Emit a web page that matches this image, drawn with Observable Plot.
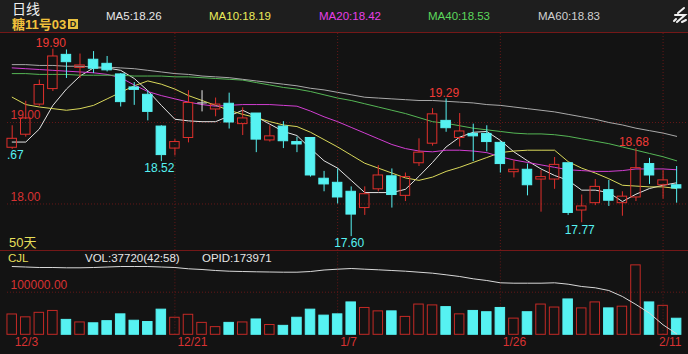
<!DOCTYPE html>
<html><head><meta charset="utf-8">
<script src="https://cdn.jsdelivr.net/npm/d3@7"></script>
<script src="https://cdn.jsdelivr.net/npm/@observablehq/plot@0.6"></script>
<style>
html,body{margin:0;padding:0;background:#131313;}
#root{position:relative;width:688px;height:354px;overflow:hidden;background:#131313;font-family:"Liberation Sans",Arial,"Noto Sans CJK SC",sans-serif;}
.abs{position:absolute;white-space:nowrap;line-height:1;}
#hdr{left:0;top:0;width:688px;height:32px;background:#1e1e1e;border-bottom:1px solid #741818;}
#sep{left:0;top:250px;width:688px;height:1px;background:#741818;}
#pricePlot{left:0;top:33px;}
#volPlot{left:0;top:251px;}
#oiPlot{left:0;top:251px;}
.ma{font-size:11.5px;top:11px;}
</style></head>
<body>
<div id="root">
  <div id="hdr" class="abs"></div>
  <div class="abs" style="left:12px;top:2px;font-size:14px;color:#f0f0f0;line-height:14px;">日线</div>
  <div class="abs" style="left:12px;top:18px;font-size:13px;font-weight:bold;color:#f2c23c;line-height:13px;">糖11号03</div>
  <div class="abs" style="left:68px;top:19px;width:10px;height:10px;background:#e8c040;color:#1e1e1e;font-size:9px;font-weight:bold;text-align:center;line-height:10px;">D</div>
  <div id="maLabels"></div>
  <svg class="abs" style="left:672px;top:6px" width="16" height="22" viewBox="0 0 16 22">
    <path d="M12 2 L6 7 M3 9 L13 9 L5 16 M4 13 L2 15 M10 16 L14 14" stroke="#f0f0f0" stroke-width="2" fill="none" stroke-linecap="round"/>
  </svg>
  <div id="pricePlot" class="abs"></div>
  <div id="sep" class="abs"></div>
  <div class="abs" style="left:9px;top:236px;font-size:13px;color:#e6df5a;">50天</div>
  <div id="volPlot" class="abs"></div>
  <div id="oiPlot" class="abs"></div>
  <div class="abs" style="left:8px;top:253px;font-size:11.5px;color:#e6df5a;">CJL</div>
  <div class="abs" style="left:85px;top:253px;font-size:11.5px;color:#e6e6e6;">VOL:37720(42:58)</div>
  <div class="abs" style="left:202px;top:253px;font-size:11.5px;color:#e6e6e6;">OPID:173971</div>
</div>
<script>
// ---- data (50 trading days) ----
const open  = [18.69,18.85,19.22,19.41,19.83,19.67,19.77,19.72,19.59,19.43,19.34,18.95,18.68,18.81,19.24,19.16,19.23,18.98,19.11,18.78,18.95,18.76,18.81,18.31,18.26,18.15,17.95,18.18,18.34,18.10,18.50,18.74,19.02,18.81,18.86,18.86,18.75,18.39,18.42,18.30,18.30,18.50,17.92,18.01,18.17,18.01,18.08,18.49,18.23,18.23];
const high  = [18.96,19.26,19.52,19.90,19.89,19.84,19.87,19.81,19.60,19.49,19.39,18.96,18.79,19.39,19.39,19.30,19.36,19.18,19.11,18.96,19.01,18.82,18.81,18.40,18.43,18.21,18.21,18.47,18.43,18.38,18.80,19.17,19.29,19.11,18.98,18.96,18.77,18.53,18.49,18.41,18.57,18.50,18.11,18.30,18.29,18.15,18.68,18.56,18.41,18.46];
const low   = [18.67,18.82,19.20,19.38,19.54,19.54,19.60,19.62,19.19,19.21,19.02,18.52,18.59,18.75,19.13,19.07,18.92,18.84,18.63,18.76,18.68,18.63,18.33,18.15,18.00,17.60,17.86,18.15,17.95,18.03,18.46,18.71,18.88,18.70,18.52,18.64,18.38,18.32,18.10,17.90,18.18,17.86,17.77,17.98,17.97,17.85,18.03,18.24,18.06,18.01];
const close = [18.80,19.05,19.46,19.81,19.74,19.70,19.66,19.64,19.25,19.40,19.13,18.60,18.76,19.24,19.24,19.22,19.00,19.05,18.79,18.83,18.77,18.73,18.35,18.24,18.08,17.87,18.12,18.35,18.11,18.33,18.63,19.10,18.93,18.89,18.83,18.76,18.49,18.42,18.23,18.33,18.48,17.89,17.97,18.21,18.04,18.09,18.44,18.35,18.29,18.19];
const volume = [47700,41000,51600,56000,35000,29000,27000,32000,48000,33000,30000,59000,40000,47000,28000,18000,28000,29000,36000,23000,21000,40000,59000,45000,48000,76000,63000,55000,55000,42000,71000,69000,65000,48000,56000,53000,63000,38000,53000,71000,64000,83000,62000,76000,62000,66000,163000,76000,68000,37720];
const openInterest = [308600,307600,306600,306600,306000,306000,306600,307600,308600,308600,308600,307600,306600,304000,302600,300600,299200,298600,298000,297600,297200,297200,298600,301600,303200,304600,303200,302000,300600,299200,297200,295200,292000,288600,284000,280600,276000,275200,275200,275200,276000,273200,268600,266000,260600,248600,232600,215200,192000,173971];
const ma5  = [18.76,18.76,18.92,19.21,19.41,19.57,19.67,19.67,19.64,19.54,19.39,19.21,19.04,19.02,19.01,19.01,19.08,19.15,19.07,18.98,18.89,18.84,18.68,18.53,18.44,18.29,18.14,18.14,18.14,18.18,18.34,18.51,18.70,18.82,18.88,18.89,18.78,18.64,18.53,18.43,18.35,18.29,18.17,18.17,18.14,18.03,18.12,18.19,18.23,18.26];
const ma10 = [19.31,19.22,19.19,19.17,19.15,19.17,19.21,19.29,19.37,19.45,19.51,19.47,19.41,19.33,19.27,19.21,19.15,19.10,19.06,19.01,18.97,18.95,18.88,18.79,18.70,18.60,18.50,18.44,18.38,18.32,18.29,18.33,18.40,18.45,18.51,18.57,18.63,18.65,18.66,18.66,18.66,18.52,18.44,18.38,18.31,18.23,18.22,18.21,18.21,18.19];
const ma20 = [19.67,19.66,19.65,19.64,19.63,19.62,19.61,19.59,19.55,19.46,19.38,19.33,19.29,19.25,19.22,19.20,19.21,19.22,19.22,19.22,19.21,19.20,19.14,19.07,19.01,18.94,18.87,18.80,18.73,18.68,18.65,18.64,18.66,18.66,18.65,18.63,18.58,18.54,18.51,18.48,18.45,18.42,18.41,18.40,18.40,18.41,18.43,18.43,18.43,18.42];
const ma40 = [19.60,19.60,19.59,19.59,19.59,19.58,19.58,19.58,19.58,19.57,19.57,19.57,19.56,19.56,19.55,19.54,19.53,19.52,19.49,19.46,19.43,19.41,19.38,19.34,19.30,19.27,19.23,19.19,19.15,19.11,19.06,19.01,18.99,18.96,18.93,18.91,18.89,18.87,18.86,18.86,18.85,18.83,18.80,18.77,18.74,18.70,18.66,18.62,18.58,18.53];
const ma60 = [19.71,19.71,19.70,19.70,19.69,19.69,19.68,19.68,19.67,19.66,19.64,19.62,19.60,19.59,19.57,19.56,19.55,19.53,19.51,19.49,19.47,19.45,19.42,19.40,19.37,19.34,19.31,19.30,19.29,19.28,19.27,19.27,19.26,19.25,19.24,19.22,19.21,19.19,19.17,19.15,19.13,19.10,19.07,19.04,19.00,18.97,18.93,18.90,18.87,18.83];
const maNames  = ["MA5","MA10","MA20","MA40","MA60"];
const maLast   = ["18.26","18.19","18.42","18.53","18.83"];
const tickIdx    = [0,12,24,36,48];
const tickLabels = ["12/3","12/21","1/7","1/26","2/11"];
const priceTicks = [19, 18];
const volTicks   = [100000];
const highMarks = [3, 32, 46];
const lowMarks  = [0, 11, 25, 42];

// ---- styling ----
const BG = "#131313", RED = "#e0302c", VRED = "#c42a26", CYAN = "#56f2f2", DOJI = "#e8e8e8";
const GRID = "#651818", AXRED = "#d83232";
const maColors = ["#e4e4e4","#d9d85a","#d23ed2","#55b655","#a9a9a9"];
const maLabelColors = ["#e6e6e6","#ecec5a","#e83ee8","#5cd85c","#d0d0d0"];
const maLabelX = [106, 209, 319, 428, 538];

const lab = document.getElementById("maLabels");
maNames.forEach((m, k) => {
  const el = document.createElement("div");
  el.className = "abs ma";
  el.style.left = maLabelX[k] + "px";
  el.style.color = maLabelColors[k];
  el.textContent = m + ":" + maLast[k];
  lab.appendChild(el);
});

const rows = d3.range(open.length).map(i => ({
  i, o: open[i], h: high[i], l: low[i], c: close[i], v: volume[i], oi: openInterest[i],
  m5: ma5[i], m10: ma10[i], m20: ma20[i], m40: ma40[i], m60: ma60[i]
}));
const col = d => d.c > d.o ? RED : d.c < d.o ? CYAN : DOJI;
const xDomain = [-0.3466, 49.875];
const W = 0.35;
const font = {background: "transparent", fontFamily: "Liberation Sans, Arial, sans-serif", overflow: "visible"};

const maKeys = ["m5","m10","m20","m40","m60"];
const bodies = rows.filter(d => d.c !== d.o);
const dojis = rows.filter(d => d.c === d.o);

const price = Plot.plot({
  width: 688, height: 217, marginLeft: 7, marginRight: 0, marginTop: 0, marginBottom: 0,
  style: font,
  x: {domain: xDomain, axis: null},
  y: {domain: [17.4294, 20.092], axis: null},
  marks: [
    Plot.ruleY(priceTicks, {stroke: GRID, strokeDasharray: "1,2"}),
    Plot.ruleX(tickIdx.slice(1), {stroke: GRID, strokeDasharray: "1,2"}),
    Plot.text(priceTicks, {y: d => d, text: d => d.toFixed(2), frameAnchor: "left", textAnchor: "start", lineAnchor: "middle", dx: 3, dy: -7, fill: AXRED, fontSize: 12}),
    ...maKeys.map((k, j) => Plot.line(rows, {x: "i", y: k, stroke: maColors[j], strokeWidth: 1})),
    Plot.ruleX(rows, {x: "i", y1: d => Math.max(d.o, d.c), y2: "h", stroke: col, strokeWidth: 1}),
    Plot.ruleX(rows, {x: "i", y1: "l", y2: d => Math.min(d.o, d.c), stroke: col, strokeWidth: 1}),
    Plot.rect(bodies, {x1: d => d.i - W, x2: d => d.i + W, y1: "o", y2: "c",
      fill: d => d.c > d.o ? "none" : CYAN, stroke: col, strokeWidth: 1}),
    Plot.link(dojis, {x1: d => d.i - W, x2: d => d.i + W, y1: "o", y2: "c", stroke: DOJI, strokeWidth: 1}),
    Plot.text(rows.filter(d => highMarks.includes(d.i)), {x: "i", y: "h", text: d => d.h.toFixed(2), textAnchor: "middle", lineAnchor: "middle", dx: -2, dy: -6, fill: "#f03a36", fontSize: 12}),
    Plot.text(rows.filter(d => lowMarks.includes(d.i) && d.i > 0), {x: "i", y: "l", text: d => d.l.toFixed(2), textAnchor: "middle", lineAnchor: "middle", dx: -2, dy: 7, fill: CYAN, fontSize: 12}),
    Plot.text(rows.filter(d => lowMarks.includes(d.i) && d.i === 0), {x: "i", y: "l", text: d => d.l.toFixed(2), textAnchor: "end", lineAnchor: "middle", dx: 11.5, dy: 6, fill: CYAN, fontSize: 12, clip: true})
  ]
});
document.getElementById("pricePlot").appendChild(price);

const vol = Plot.plot({
  width: 688, height: 103, marginLeft: 7, marginRight: 0, marginTop: 0, marginBottom: 0,
  style: font,
  x: {domain: xDomain, axis: null},
  y: {domain: [-46244, 195540], axis: null},
  marks: [
    Plot.ruleY(volTicks, {stroke: GRID, strokeDasharray: "1,2"}),
    Plot.ruleX(tickIdx.slice(1), {stroke: GRID, strokeDasharray: "1,2", y1: 0, y2: 195540}),
    Plot.text(volTicks, {y: d => d, text: d => d.toFixed(2), frameAnchor: "left", textAnchor: "start", lineAnchor: "middle", dx: 3, dy: -7, fill: AXRED, fontSize: 12}),
    Plot.rect(rows, {x1: d => d.i - W, x2: d => d.i + W, y1: 0, y2: "v",
      fill: d => d.c >= d.o ? "none" : CYAN, stroke: d => d.c >= d.o ? VRED : CYAN, strokeWidth: 1}),
    Plot.text(tickIdx.slice(0, 4), {x: d => d, text: (d, k) => tickLabels[k], frameAnchor: "bottom", textAnchor: "start", lineAnchor: "middle", dx: 2.5, dy: -12, fill: AXRED, fontSize: 12}),
    Plot.text(tickIdx.slice(4), {x: d => d, text: () => tickLabels[4], frameAnchor: "bottom", textAnchor: "start", lineAnchor: "middle", dx: -4, dy: -12, fill: AXRED, fontSize: 12})
  ]
});
document.getElementById("volPlot").appendChild(vol);

const oi = Plot.plot({
  width: 688, height: 103, marginLeft: 7, marginRight: 0, marginTop: 0, marginBottom: 0,
  style: font,
  x: {domain: xDomain, axis: null},
  y: {domain: [132600, 338600], axis: null},
  marks: [
    Plot.line(rows, {x: "i", y: "oi", stroke: "#d8d8d8", strokeWidth: 1})
  ]
});
document.getElementById("oiPlot").appendChild(oi);
</script>
</body></html>
